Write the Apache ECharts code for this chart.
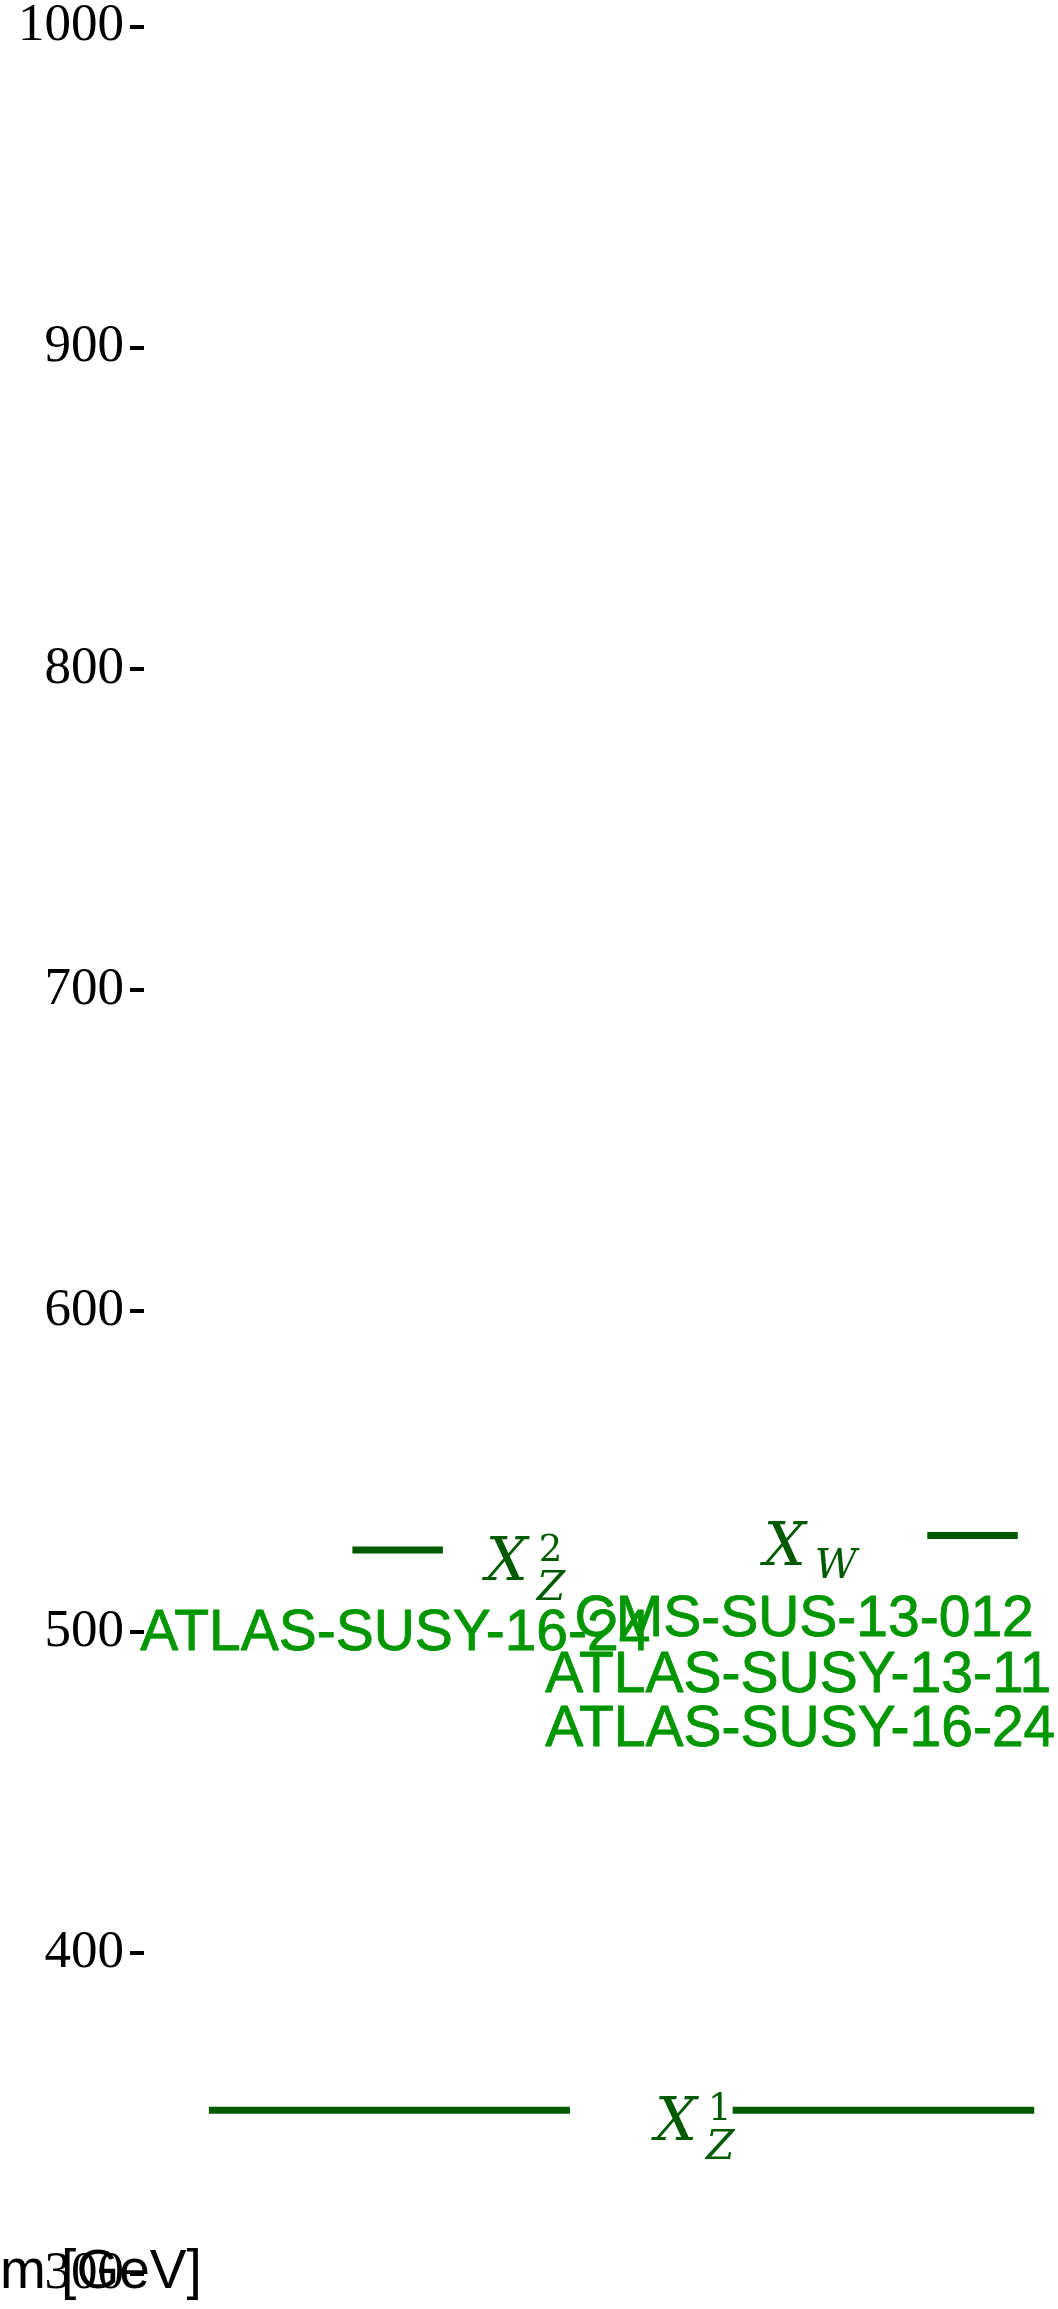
<!DOCTYPE html>
<html><head><meta charset="utf-8">
<script src="https://cdn.jsdelivr.net/npm/echarts@6/dist/echarts.min.js"></script>
<style>html,body{margin:0;padding:0;background:#fff}#c{width:1058px;height:2309px}</style>
</head><body><div id="c"></div>
<script>
// y-axis ticks (GeV)
const massTicks = [300, 400, 500, 600, 700, 800, 900, 1000];
// mass levels (horizontal bars)
const levelNames = ['X_Z^1 (a)', 'X_Z^1 (b)', 'X_Z^2', 'X_W'];
const levelMass = [351, 351, 525.5, 530];
const levelStart = [7.1, 64.4, 22.8, 85.7];
const levelEnd = [46.6, 97.4, 32.7, 95.6];
// particle symbols
const symbolMain = ['X', 'X', 'X'];
const symbolSub = ['Z', 'Z', 'W'];
const symbolSup = ['1', '2', ''];
const symbolPosX = [55.9, 37.4, 67.8];
const symbolMass = [346.6, 520.8, 525.5];
// analysis labels
const analysisNames = ['ATLAS-SUSY-16-24', 'CMS-SUS-13-012', 'ATLAS-SUSY-13-11', 'ATLAS-SUSY-16-24'];
const analysisPosX = [-0.4, 47.1, 43.9, 43.9];
const analysisMass = [499.4, 503.5, 486.3, 469.3];
const axisTitle = 'm [GeV]';

const DARK = '#005a00';
const LIGHT = '#009600';

const chart = echarts.init(document.getElementById('c'), null, {renderer: 'canvas'});

const series = [];
levelNames.forEach((n, i) => {
  series.push({
    name: n, type: 'line', silent: true, animation: false, clip: false,
    symbol: 'none',
    data: [[levelStart[i], levelMass[i]], [levelEnd[i], levelMass[i]]],
    lineStyle: {color: DARK, width: 7, cap: 'butt'}
  });
});

function textSeries(data, label) {
  return {
    type: 'scatter', silent: true, animation: false, clip: false,
    symbolSize: 0, itemStyle: {color: '#fff', opacity: 1},
    data: data,
    label: Object.assign({show: true, position: 'right', distance: 0, formatter: p => p.name}, label)
  };
}

series.push(textSeries(
  symbolMain.map((s, i) => ({name: s, value: [symbolPosX[i], symbolMass[i]]})),
  {fontFamily: 'DejaVu Serif', fontStyle: 'italic', fontSize: 59, color: DARK}
));
series.push(textSeries(
  symbolSup.map((s, i) => ({name: s, value: [symbolPosX[i], symbolMass[i]]})).filter(d => d.name !== ''),
  {offset: [53, -14], fontFamily: 'DejaVu Serif', fontSize: 37, color: DARK}
));
series.push(textSeries(
  symbolSub.map((s, i) => ({
    name: s, value: [symbolPosX[i], symbolMass[i]],
    label: {offset: symbolSup[i] !== '' ? [51, 24] : [51, 17]}
  })),
  {fontFamily: 'DejaVu Serif', fontStyle: 'italic', fontSize: 41, color: DARK}
));
series.push(textSeries(
  analysisNames.map((s, i) => ({name: s, value: [analysisPosX[i], analysisMass[i]]})),
  {fontFamily: 'Liberation Sans', fontSize: 57, color: LIGHT, textBorderColor: LIGHT, textBorderWidth: 0.8}
));

chart.setOption({
  animation: false,
  backgroundColor: '#ffffff',
  title: {text: axisTitle, left: 0, top: 2245, padding: 0,
    textStyle: {fontFamily: 'Liberation Sans', fontSize: 55, fontWeight: 'normal', color: '#000', lineHeight: 55}},
  grid: {left: 144, right: 0, top: 20, bottom: 35, containLabel: false},
  xAxis: {type: 'value', min: 0, max: 100, show: false},
  yAxis: {
    type: 'value', min: massTicks[0], max: massTicks[massTicks.length - 1], interval: 100,
    axisLine: {show: false},
    splitLine: {show: false},
    axisTick: {show: true, length: 14, lineStyle: {color: '#000', width: 4}},
    axisLabel: {margin: 20, fontFamily: 'Liberation Serif', fontSize: 53, color: '#000',
      formatter: v => String(v)}
  },
  series: series
});
</script></body></html>
